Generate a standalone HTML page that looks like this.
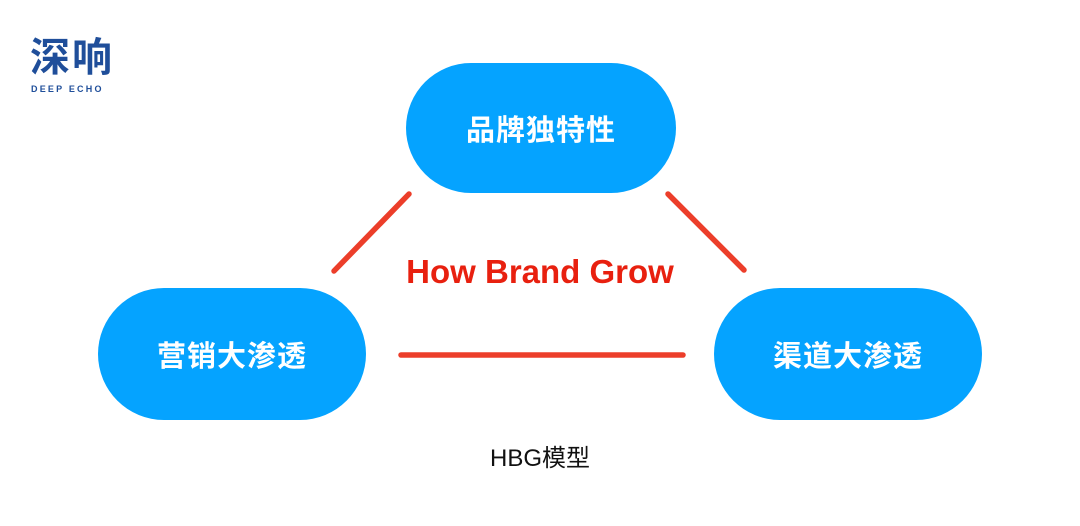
<!DOCTYPE html>
<html><head><meta charset="utf-8"><style>
body{margin:0;width:1080px;height:526px;background:#fff;position:relative;overflow:hidden;font-family:"Liberation Sans","Noto Sans CJK SC",sans-serif}
.pill{position:absolute;background:#05a3ff;border-radius:66px;color:#fff;font-size:29px;font-weight:bold;display:flex;align-items:center;justify-content:center;letter-spacing:1px}
.t{position:absolute;white-space:nowrap}
</style></head><body>
<div class="t" style="left:30px;top:34px;font-size:40px;font-weight:bold;color:#1f4e9a;letter-spacing:2px;line-height:48px">深响</div>
<div class="t" style="left:31px;top:84px;font-size:9px;font-weight:bold;color:#1f4e9a;letter-spacing:2.2px">DEEP ECHO</div>
<div class="pill" style="left:406px;top:63px;width:270px;height:130px">品牌独特性</div>
<div class="pill" style="left:98px;top:288px;width:268px;height:132px">营销大渗透</div>
<div class="pill" style="left:714px;top:288px;width:268px;height:132px">渠道大渗透</div>
<svg style="position:absolute;left:0;top:0" width="1080" height="526">
<g stroke="#ea2a14" stroke-width="5.5" stroke-linecap="round" opacity="0.9">
<line x1="409" y1="194" x2="334" y2="271"/>
<line x1="668" y1="194" x2="744" y2="270"/>
<line x1="401" y1="355" x2="683" y2="355"/>
</g></svg>
<div class="t" style="left:0;width:1080px;text-align:center;top:253px;font-size:33px;font-weight:bold;color:#e8200f">How Brand Grow</div>
<div class="t" style="left:0;width:1080px;text-align:center;top:438px;font-size:24px;color:#111">HBG模型</div>
</body></html>
